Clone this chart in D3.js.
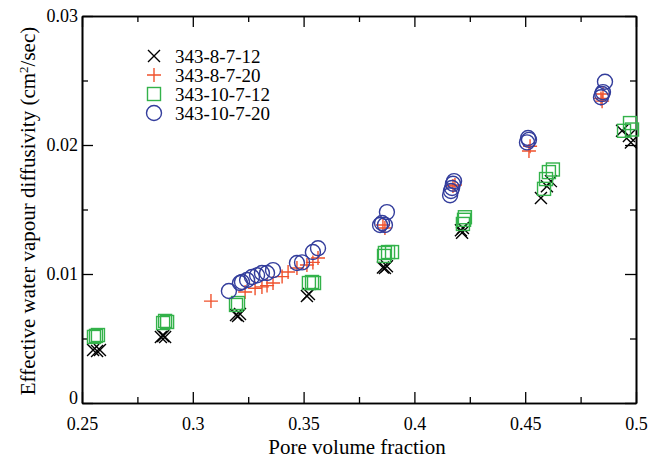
<!DOCTYPE html>
<html>
<head>
<meta charset="utf-8">
<script src="https://cdn.jsdelivr.net/npm/d3@7"></script>
<style>
body { margin: 0; background: #fff; }
</style>
</head>
<body>
<script>
// series names
var seriesNames = ["343-8-7-12", "343-8-7-20", "343-10-7-12", "343-10-7-20"];

// [pore volume fraction, diffusivity]
var s1_x = [
    [0.2550, 0.00411], [0.2568, 0.00403], [0.2581, 0.00411],
    [0.2856, 0.00512], [0.2866, 0.00519], [0.2875, 0.00512],
    [0.3195, 0.00682], [0.3204, 0.00674], [0.3213, 0.0069],
    [0.3515, 0.0083], [0.3524, 0.00845],
    [0.3858, 0.0105], [0.3876, 0.0106], [0.3867, 0.01047],
    [0.4210, 0.0134], [0.4215, 0.0132], [0.4219, 0.01357],
    [0.4571, 0.0159], [0.4598, 0.0168], [0.4616, 0.0172],
    [0.4937, 0.0211], [0.4968, 0.0207], [0.4977, 0.0202]
];
var s2_plus = [
    [0.3082, 0.0079], [0.3236, 0.0086], [0.3281, 0.0089], [0.3312, 0.0090],
    [0.3335, 0.0091], [0.3362, 0.0093], [0.3403, 0.0098], [0.3430, 0.01016],
    [0.3470, 0.01047], [0.3515, 0.0107], [0.3542, 0.0109], [0.3565, 0.01124],
    [0.3858, 0.0138], [0.3867, 0.01357],
    [0.4174, 0.01682], [0.4183, 0.0169],
    [0.4517, 0.01953], [0.4522, 0.0199],
    [0.4851, 0.02395], [0.4842, 0.0236], [0.4847, 0.0234]
];
var s3_square = [
    [0.2554, 0.00512], [0.2563, 0.0052], [0.2572, 0.00527],
    [0.2866, 0.0062], [0.2875, 0.00636], [0.2884, 0.00628],
    [0.3195, 0.0076], [0.3204, 0.00775],
    [0.3524, 0.0093], [0.3538, 0.00938], [0.3547, 0.0093],
    [0.3863, 0.0114], [0.3867, 0.01163], [0.3881, 0.0117], [0.3899, 0.0117],
    [0.4219, 0.01388], [0.4224, 0.0142], [0.4228, 0.0144],
    [0.4585, 0.0166], [0.4594, 0.01736], [0.4607, 0.0179], [0.4625, 0.0181],
    [0.4946, 0.0211], [0.4973, 0.0217], [0.4982, 0.0212]
];
var s4_circle = [
    [0.3163, 0.00868], [0.3213, 0.0093], [0.3222, 0.00938], [0.3245, 0.00953],
    [0.3267, 0.00977], [0.3290, 0.0099], [0.3312, 0.01008], [0.3335, 0.01008],
    [0.3362, 0.0103], [0.3470, 0.01085], [0.3493, 0.0109], [0.3542, 0.0117],
    [0.3565, 0.0120],
    [0.3845, 0.0138], [0.3854, 0.01395], [0.3867, 0.0138], [0.3876, 0.0148],
    [0.4161, 0.0161], [0.4165, 0.01643], [0.4170, 0.01667], [0.4174, 0.0170], [0.4179, 0.0172],
    [0.4513, 0.02054], [0.4517, 0.0204], [0.4508, 0.0202],
    [0.4847, 0.02395], [0.4842, 0.0237], [0.4851, 0.0241], [0.4860, 0.0249]
];

var xTicks = [0.25, 0.3, 0.35, 0.4, 0.45, 0.5];
var xTickLabels = ["0.25", "0.3", "0.35", "0.4", "0.45", "0.5"];
var yTicks = [0, 0.01, 0.02, 0.03];
var yTickLabels = ["0", "0.01", "0.02", "0.03"];
var xMinor = [0.275, 0.325, 0.375, 0.425, 0.475];
var yMinor = [0.005, 0.015, 0.025];

var colors = ["#000000", "#f0522d", "#33b24a", "#333d9c"];

var w = 660;
var h = 462;
var mLeft = 82, mRight = 636, mTop = 16, mBottom = 403;
var font = "'Liberation Serif', 'Times New Roman', serif";

var xScale = d3.scaleLinear().domain([0.25, 0.5]).range([mLeft, mRight]);
var yScale = d3.scaleLinear().domain([0, 0.03]).range([mBottom, mTop]);

var svg = d3.select("body")
    .append("svg")
    .attr("width", w)
    .attr("height", h);

// axes (ticks point inward)
function drawAxis(axis, transform, labels) {
    var g = svg.append("g")
        .attr("transform", transform)
        .call(axis);
    g.select(".domain").attr("stroke-width", 1.6);
    g.selectAll(".tick line").attr("stroke-width", 1.3);
    g.selectAll("text")
        .attr("font-family", font)
        .attr("font-size", 18)
        .attr("fill", "#000");
    if (!labels) g.selectAll("text").remove();
    return g;
}

var fmtX = function (d, i) { return xTickLabels[i]; };
var fmtY = function (d, i) { return yTickLabels[i]; };

drawAxis(d3.axisBottom(xScale).tickValues(xTicks).tickFormat(fmtX).tickSizeInner(-11).tickSizeOuter(0).tickPadding(14),
    "translate(0," + mBottom + ")", true);
drawAxis(d3.axisBottom(xScale).tickValues(xMinor).tickSizeInner(-6).tickSizeOuter(0),
    "translate(0," + mBottom + ")", false);
drawAxis(d3.axisTop(xScale).tickValues(xTicks).tickSizeInner(-11).tickSizeOuter(0),
    "translate(0," + mTop + ")", false);
drawAxis(d3.axisTop(xScale).tickValues(xMinor).tickSizeInner(-6).tickSizeOuter(0),
    "translate(0," + mTop + ")", false);
drawAxis(d3.axisLeft(yScale).tickValues(yTicks).tickFormat(fmtY).tickSizeInner(-11).tickSizeOuter(0).tickPadding(4),
    "translate(" + mLeft + ",0)", true);
drawAxis(d3.axisLeft(yScale).tickValues(yMinor).tickSizeInner(-6).tickSizeOuter(0),
    "translate(" + mLeft + ",0)", false);
drawAxis(d3.axisRight(yScale).tickValues(yTicks).tickSizeInner(-11).tickSizeOuter(0),
    "translate(" + mRight + ",0)", false);
drawAxis(d3.axisRight(yScale).tickValues(yMinor).tickSizeInner(-6).tickSizeOuter(0),
    "translate(" + mRight + ",0)", false);

// y tick label "0" sits a bit above the corner
svg.selectAll(".tick text").filter(function () { return d3.select(this).text() === "0"; })
    .attr("dy", "0.05em");

// markers
function marker(g, type, color) {
    if (type === 0) {
        g.append("path").attr("d", "M-6,-6L6,6M-6,6L6,-6")
            .attr("stroke", color).attr("stroke-width", 1.4).attr("fill", "none");
    } else if (type === 1) {
        g.append("path").attr("d", "M-7,0L7,0M0,-7L0,7")
            .attr("stroke", color).attr("stroke-width", 1.4).attr("fill", "none");
    } else if (type === 2) {
        g.append("rect").attr("x", -6.5).attr("y", -6.5).attr("width", 13).attr("height", 13)
            .attr("stroke", color).attr("stroke-width", 1.4).attr("fill", "none");
    } else {
        g.append("circle").attr("r", 7.5)
            .attr("stroke", color).attr("stroke-width", 1.4).attr("fill", "none");
    }
}

var allSeries = [s1_x, s2_plus, s3_square, s4_circle];
allSeries.forEach(function (data, k) {
    svg.append("g").selectAll("g")
        .data(data)
        .enter()
        .append("g")
        .attr("transform", function (d) {
            return "translate(" + xScale(d[0]) + "," + yScale(d[1]) + ")";
        })
        .each(function () { marker(d3.select(this), k, colors[k]); });
});

// legend
seriesNames.forEach(function (name, k) {
    var ly = 56 + k * 19;
    var g = svg.append("g").attr("transform", "translate(154," + ly + ")");
    marker(g, k, colors[k]);
    svg.append("text")
        .attr("x", 175)
        .attr("y", ly)
        .attr("dy", "0.35em")
        .attr("font-family", font)
        .attr("font-size", 19)
        .text(name);
});

// axis titles
svg.append("text")
    .attr("text-anchor", "middle")
    .attr("x", 357)
    .attr("y", 454)
    .attr("font-family", font)
    .attr("font-size", 21)
    .text("Pore volume fraction");

var yt = svg.append("text")
    .attr("text-anchor", "middle")
    .attr("transform", "translate(35,211) rotate(-90)")
    .attr("font-family", font)
    .attr("font-size", 21);
yt.append("tspan").text("Effective water vapour diffusivity (cm");
yt.append("tspan").attr("baseline-shift", "super").attr("font-size", 13).text("2");
yt.append("tspan").text("/sec)");
</script>
</body>
</html>
